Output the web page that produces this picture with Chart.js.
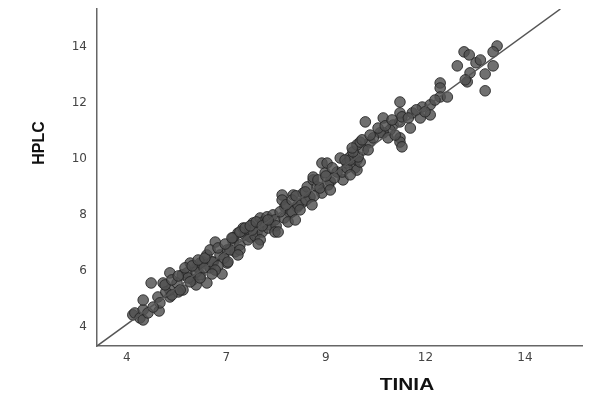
<!DOCTYPE html>
<html>
<head>
<meta charset="utf-8">
<script src="https://cdn.jsdelivr.net/npm/chart.js@4"></script>
<style>
  body { margin: 0; background: #fff; }
  canvas { display: block; }
</style>
</head>
<body>
<canvas id="scatterChart" width="589" height="394"></canvas>
<script>
// TINIA (x) vs HPLC (y)
const tinia = [
  4.20, 4.25, 4.38, 4.46, 4.46, 4.58, 4.86, 4.46, 4.66, 4.96,
  4.83, 4.88, 5.13, 4.71, 5.13, 5.13, 5.31, 5.46, 5.44, 5.56,
  5.71, 5.89, 6.06, 5.81, 6.14, 6.44, 5.96, 6.22, 6.57, 5.89,
  5.64, 6.06, 6.39, 6.57, 6.77, 6.27, 6.72, 6.84, 7.02, 6.72,
  6.97, 7.15, 7.22, 7.32, 7.40, 7.47, 7.57, 7.65, 7.72, 7.77,
  7.95, 7.95, 8.23, 8.02, 8.15, 8.33, 8.45, 8.48, 8.58, 8.65,
  8.73, 8.73, 8.83, 8.95, 9.03, 8.95, 9.08, 9.16, 9.33, 9.48,
  9.41, 9.58, 9.66, 9.78, 9.83, 9.46, 9.58, 9.83, 9.91, 9.66,
  9.86, 9.73, 9.99, 9.83, 9.91, 10.16, 10.04, 10.49, 10.74, 10.91,
  10.66, 10.49, 10.41, 10.24, 10.61, 10.91, 10.91, 10.96, 10.91, 10.91,
  10.96, 11.22, 11.47, 11.67, 11.42, 11.67, 11.92, 11.92, 11.92, 12.10,
  12.60, 13.35, 13.25, 12.52, 12.65, 12.35, 12.82, 12.93, 13.25, 12.67,
  13.05, 12.55, 13.05, 5.59, 5.79, 5.99, 6.19, 6.34, 6.49, 6.64,
  6.89, 7.09, 7.27, 7.45, 7.60, 7.80, 8.00, 8.20, 8.35, 8.55,
  8.75, 8.90, 9.11, 9.26, 6.27, 6.89, 7.40, 7.77, 8.10, 8.40,
  5.34, 5.03, 5.79, 7.20, 11.32, 11.79,
  5.01, 5.18, 5.34, 5.51, 5.69, 5.84, 6.01, 6.14, 6.34, 6.52,
  6.69, 6.89, 7.02, 7.15, 7.30, 7.45, 7.60, 7.90, 8.05, 8.20,
  8.30, 8.53, 8.85, 9.05, 9.21, 9.53, 9.71, 9.96, 10.16, 10.36,
  10.54, 10.71, 11.12, 11.54, 5.18, 5.39, 5.64, 5.89, 6.19, 6.59,
  6.84, 7.35, 7.85, 8.28, 8.70, 9.16, 9.66, 10.11, 10.79, 11.17
];
const hplc = [
  4.43, 4.50, 4.32, 4.61, 4.25, 4.50, 4.57, 4.96, 5.57, 5.57,
  5.07, 4.86, 5.07, 4.71, 5.32, 5.93, 5.57, 5.32, 5.86, 5.93,
  5.68, 5.86, 5.57, 6.14, 6.11, 5.89, 6.32, 6.32, 6.28, 6.28,
  6.28, 6.57, 6.57, 6.75, 6.68, 7.03, 7.03, 7.35, 7.28, 7.18,
  7.53, 7.21, 7.71, 7.39, 7.89, 7.75, 7.93, 7.64, 8.00, 7.82,
  8.71, 8.53, 8.71, 8.28, 8.07, 8.28, 8.43, 8.78, 9.00, 8.64,
  9.25, 9.35, 9.00, 8.78, 9.50, 9.85, 9.85, 9.18, 9.53, 9.25,
  10.03, 9.85, 10.07, 9.68, 9.96, 9.53, 9.68, 9.60, 9.89, 9.96,
  10.07, 10.25, 10.32, 10.50, 10.60, 10.60, 11.32, 11.46, 11.21, 11.32,
  11.03, 10.93, 10.93, 10.75, 10.75, 10.75, 10.60, 10.43, 12.03, 11.64,
  11.50, 11.64, 11.85, 11.93, 11.46, 11.57, 12.71, 12.53, 12.21, 12.21,
  12.75, 14.03, 13.82, 13.82, 13.71, 13.32, 13.43, 13.53, 13.32, 13.07,
  13.03, 12.82, 12.43, 5.75, 5.96, 6.11, 6.32, 6.18, 6.46, 6.75,
  6.93, 7.11, 7.25, 7.39, 7.53, 7.61, 7.89, 8.11, 8.35, 8.53,
  8.68, 8.96, 9.07, 9.32, 6.03, 6.75, 7.11, 7.39, 7.75, 8.18,
  5.25, 5.25, 5.50, 7.46, 11.75, 12.10,
  5.50, 5.68, 5.82, 6.11, 6.18, 6.39, 6.46, 6.75, 6.82, 6.96,
  7.18, 7.39, 7.53, 7.61, 7.75, 7.61, 7.82, 8.11, 8.36, 8.53,
  8.68, 8.82, 9.25, 9.39, 9.68, 9.96, 10.39, 10.68, 10.85, 11.10,
  11.18, 11.39, 11.46, 11.68, 5.14, 5.32, 5.61, 5.75, 5.89, 6.32,
  6.57, 6.96, 7.39, 7.82, 8.36, 8.89, 9.43, 10.32, 10.85, 11.10
];

// reference line, corner to top edge
const refLineX = [3.3, 14.94];
const refLineY = [3.32, 15.35];

const xTicks = [4.05, 6.55, 9.05, 11.55, 14.05];
const xTickLabels = ['4', '7', '9', '12', '14'];
const yTicks = [4, 6, 8, 10, 12, 14];

const points = tinia.map((x, i) => ({ x, y: hplc[i] }));
const linePts = refLineX.map((x, i) => ({ x, y: refLineY[i] }));

const axisTitles = {
    id: 'axisTitles',
    afterDraw(chart) {
        const ctx = chart.ctx;
        ctx.save();
        ctx.fillStyle = '#111';
        ctx.font = 'bold 16px "Liberation Sans", Arial, sans-serif';
        ctx.textAlign = 'center';
        ctx.textBaseline = 'middle';
        // x title, a bit wide in the picture
        ctx.save();
        ctx.translate(407, 386);
        ctx.scale(1.3, 1);
        ctx.fillText('TINIA', 0, 0);
        ctx.restore();
        // y title
        ctx.save();
        ctx.translate(40, 143);
        ctx.rotate(-Math.PI / 2);
        ctx.fillText('HPLC', 0, 0);
        ctx.restore();
        ctx.restore();
    }
};

// drop the label padding chart.js adds at the axis ends
function noEndPadding(scale) {
    scale.paddingTop = 0;
    scale.paddingBottom = 0;
    scale.paddingLeft = 0;
    scale.paddingRight = 0;
}

const ctx = document.getElementById('scatterChart').getContext('2d');
new Chart(ctx, {
    type: 'scatter',
    data: {
        datasets: [
            {
                type: 'line',
                data: linePts,
                borderColor: '#555',
                borderWidth: 1.5,
                pointRadius: 0,
                fill: false,
                order: 0
            },
            {
                data: points,
                backgroundColor: 'rgba(80,80,80,0.82)',
                borderColor: 'rgba(35,35,35,0.85)',
                borderWidth: 1,
                pointRadius: 5.3,
                order: 1
            }
        ]
    },
    options: {
        responsive: false,
        animation: false,
        layout: { padding: { top: 9, right: 0, left: 0, bottom: 0 } },
        plugins: {
            legend: { display: false },
            tooltip: { enabled: false }
        },
        scales: {
            x: {
                type: 'linear',
                min: 3.3,
                max: 15.5,
                grid: { display: false, drawTicks: false },
                border: { color: '#666', width: 1.5 },
                afterBuildTicks: scale => { scale.ticks = xTicks.map(v => ({ value: v })); },
                afterFit: scale => { scale.height = 48; noEndPadding(scale); },
                ticks: {
                    padding: 5,
                    color: '#444',
                    font: { family: 'DejaVu Sans', size: 12 },
                    callback: (v, i) => xTickLabels[i]
                }
            },
            y: {
                type: 'linear',
                min: 3.32,
                max: 15.35,
                grid: { display: false, drawTicks: false },
                border: { color: '#666', width: 1.5 },
                afterBuildTicks: scale => { scale.ticks = yTicks.map(v => ({ value: v })); },
                afterFit: scale => { scale.width = 97; noEndPadding(scale); },
                ticks: {
                    padding: 10,
                    color: '#444',
                    font: { family: 'DejaVu Sans', size: 12 },
                    callback: v => String(v)
                }
            }
        }
    },
    plugins: [axisTitles]
});
</script>
</body>
</html>
